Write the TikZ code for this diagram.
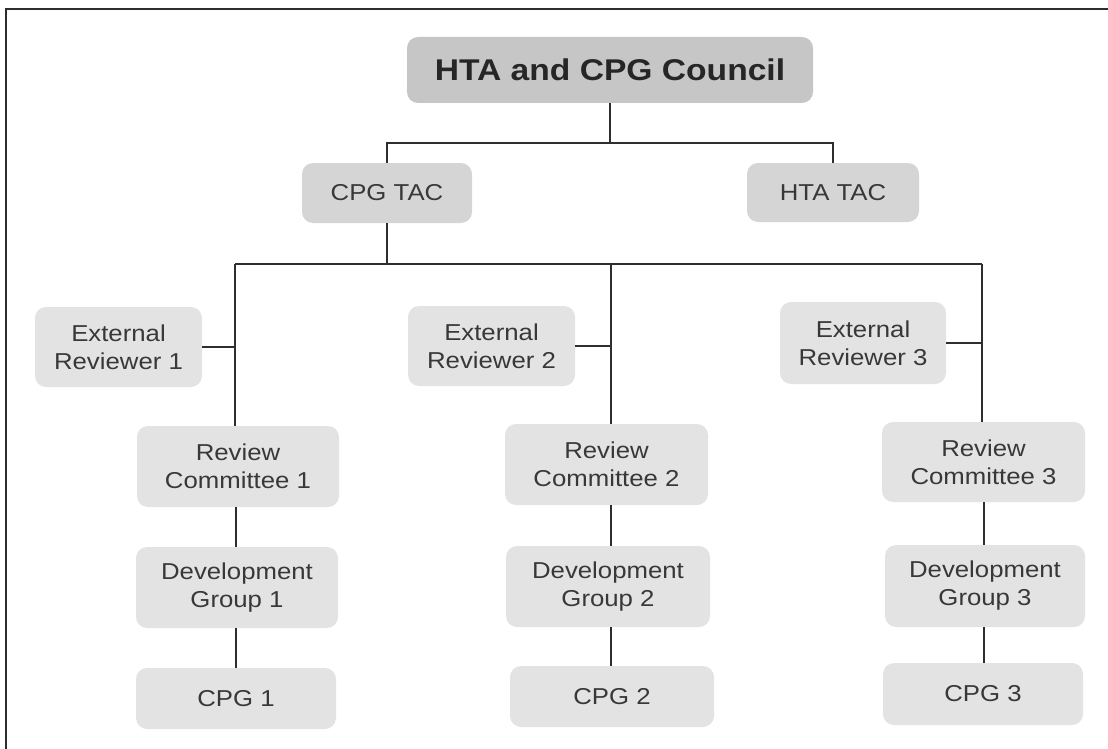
\documentclass[tikz,border=0pt]{standalone}
\usepackage{fontspec}
\setmainfont{Liberation Sans}[FakeStretch=1.12]
\begin{document}
\begin{tikzpicture}[x=1pt,y=-1pt,
  box/.style={rounded corners=11pt, fill=boxgray, draw=none, align=center,
    text=txtgray, font=\fontsize{23}{28}\selectfont, inner sep=0pt},
  conn/.style={draw=lineblk, line width=1.8pt},
  frameline/.style={draw=lineblk, line width=1.6pt}]
\definecolor{boxgray}{HTML}{E3E3E3}
\definecolor{tacgray}{HTML}{D5D5D5}
\definecolor{cougray}{HTML}{C6C6C6}
\definecolor{txtgray}{HTML}{383838}
\definecolor{lineblk}{HTML}{2E2E2E}
\useasboundingbox (0,0) rectangle (1108,749);
\draw[frameline] (6,749) -- (6,9) -- (1108,9);

\node[box, fill=cougray, minimum width=406pt, minimum height=66pt,
  font=\fontsize{30}{34}\selectfont\bfseries, text=black!85] (council) at (610,70) {HTA and CPG Council};
\node[box, fill=tacgray, minimum width=170pt, minimum height=60pt] (cpgtac) at (387,193) {CPG TAC};
\node[box, fill=tacgray, minimum width=172pt, minimum height=59pt] (htatac) at (833,192.5) {HTA TAC};

\node[box, minimum width=167pt, minimum height=80pt] (er1) at (118.5,347) {External\\Reviewer 1};
\node[box, minimum width=167pt, minimum height=80pt] (er2) at (491.5,346) {External\\Reviewer 2};
\node[box, minimum width=166pt, minimum height=82pt] (er3) at (863,343) {External\\Reviewer 3};

\node[box, minimum width=202pt, minimum height=81pt] (rc1) at (238,466.5) {Review\\Committee 1};
\node[box, minimum width=203pt, minimum height=81pt] (rc2) at (606.5,464.5) {Review\\Committee 2};
\node[box, minimum width=203pt, minimum height=80pt] (rc3) at (983.5,462) {Review\\Committee 3};

\node[box, minimum width=202pt, minimum height=81pt] (dg1) at (237,587.5) {Development\\Group 1};
\node[box, minimum width=204pt, minimum height=81pt] (dg2) at (608,586.5) {Development\\Group 2};
\node[box, minimum width=200pt, minimum height=82pt] (dg3) at (985,586) {Development\\Group 3};

\node[box, minimum width=200pt, minimum height=61pt] (cpg1) at (236,698.5) {CPG 1};
\node[box, minimum width=204pt, minimum height=61pt] (cpg2) at (612,696.5) {CPG 2};
\node[box, minimum width=200pt, minimum height=62pt] (cpg3) at (983,694) {CPG 3};

% top bus
\coordinate (bus1) at (610,143);
\draw[conn] (council.south) -- (bus1);
\draw[conn] (cpgtac.north) |- (bus1) -| (htatac.north);

% second bus
\coordinate (c1t) at (235,264);
\coordinate (c2t) at (611,264);
\coordinate (c3t) at (982,264);
\draw[conn] (c1t) -- (c3t);
\draw[conn] (cpgtac.south) -- (cpgtac.south |- c1t);
\draw[conn] (c1t) -- (c1t |- rc1.north);
\draw[conn] (c2t) -- (c2t |- rc2.north);
\draw[conn] (c3t) -- (c3t |- rc3.north);
\draw[conn] (er1.east) -- (er1.east -| c1t);
\draw[conn] (er2.east) -- (er2.east -| c2t);
\draw[conn] (er3.east) -- (er3.east -| c3t);

% lower chains
\coordinate (l1) at (236,0);
\coordinate (l2) at (611,0);
\coordinate (l3) at (984,0);
\draw[conn] (l1 |- rc1.south) -- (l1 |- dg1.north);
\draw[conn] (l1 |- dg1.south) -- (l1 |- cpg1.north);
\draw[conn] (l2 |- rc2.south) -- (l2 |- dg2.north);
\draw[conn] (l2 |- dg2.south) -- (l2 |- cpg2.north);
\draw[conn] (l3 |- rc3.south) -- (l3 |- dg3.north);
\draw[conn] (l3 |- dg3.south) -- (l3 |- cpg3.north);
\end{tikzpicture}
\end{document}
